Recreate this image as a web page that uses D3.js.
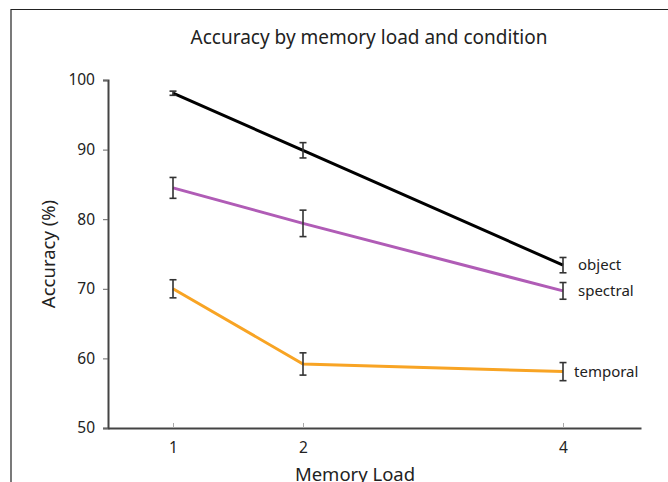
<!DOCTYPE html>
<html>
<head>
<meta charset="utf-8">
<script src="https://cdn.jsdelivr.net/npm/d3@7"></script>
<style>
  html, body { margin: 0; padding: 0; background: #fff; }
  svg { display: block; font-family: "Noto Sans", "Open Sans", sans-serif; }
</style>
</head>
<body>
<svg id="chart" width="668" height="482"></svg>
<script>
// ── Data ────────────────────────────────────────────────────────────────
const loads      = [1, 2, 4];
const conditions = ['object', 'spectral', 'temporal'];
const objectAcc    = [98.1, 89.9, 73.4];
const objectErr    = [0.3, 1.1, 1.1];
const spectralAcc  = [84.5, 79.4, 69.7];
const spectralErr  = [1.5, 1.9, 1.2];
const temporalAcc  = [70.0, 59.2, 58.1];
const temporalErr  = [1.3, 1.6, 1.3];
const yTicks = [50, 60, 70, 80, 90, 100];

const series = [
  { name: 'object',   acc: objectAcc,   err: objectErr,   color: '#000000' },
  { name: 'spectral', acc: spectralAcc, err: spectralErr, color: '#b05cb6' },
  { name: 'temporal', acc: temporalAcc, err: temporalErr, color: '#f8a424' }
];

const svg = d3.select('#chart');

// ── Frame (top + left edges of the figure box) ──────────────────────────
svg.append('path')
  .attr('d', 'M11,482 V9.5 H668')
  .attr('fill', 'none').attr('stroke', '#222').attr('stroke-width', 1.2);

// ── Scales ──────────────────────────────────────────────────────────────
const x = d3.scaleLinear().domain([0.5, 4.6]).range([108, 641]);
const y = d3.scaleLinear().domain([50, 100]).range([428, 80]);

// ── Axes ────────────────────────────────────────────────────────────────
const yAxis = svg.append('g')
  .attr('transform', `translate(${x(0.5)},0)`)
  .call(d3.axisLeft(y).tickValues(yTicks).tickSize(5).tickPadding(8));
yAxis.select('.domain').attr('stroke', '#444').attr('stroke-width', 2);
yAxis.selectAll('.tick line').attr('stroke', '#666').attr('stroke-width', 1);
yAxis.selectAll('.tick text')
  .attr('font-size', 15.5).attr('fill', '#222')
  .attr('font-family', '"Noto Sans", sans-serif');

const xAxis = svg.append('g')
  .attr('transform', `translate(0,${y(50)})`)
  .call(d3.axisBottom(x).tickValues(loads).tickFormat(d3.format('d'))
    .tickSizeInner(-5).tickSizeOuter(0).tickPadding(14));
xAxis.select('.domain').attr('stroke', '#444').attr('stroke-width', 2);
xAxis.selectAll('.tick line').attr('stroke', '#aaa').attr('stroke-width', 1);
xAxis.selectAll('.tick text')
  .attr('font-size', 15.5).attr('fill', '#222')
  .attr('font-family', '"Noto Sans", sans-serif');

// ── Lines ───────────────────────────────────────────────────────────────
const line = d3.line().x(d => x(d[0])).y(d => y(d[1]));

series.forEach(s => {
  const pts = loads.map((l, i) => [l, s.acc[i], s.err[i]]);

  svg.append('path')
    .datum(pts)
    .attr('d', line)
    .attr('fill', 'none')
    .attr('stroke', s.color)
    .attr('stroke-width', 3);

  // error bars
  const eb = svg.append('g').attr('stroke', '#333').attr('stroke-width', 1.6);
  pts.forEach(p => {
    const cx = x(p[0]);
    eb.append('line').attr('x1', cx).attr('x2', cx)
      .attr('y1', y(p[1] + p[2])).attr('y2', y(p[1] - p[2]));
    [p[1] + p[2], p[1] - p[2]].forEach(v => {
      eb.append('line').attr('x1', cx - 3.5).attr('x2', cx + 3.5)
        .attr('y1', y(v)).attr('y2', y(v));
    });
  });
});

// ── Series labels at the right end ──────────────────────────────────────
const labelX = { object: 578, spectral: 578, temporal: 574 };
series.forEach(s => {
  svg.append('text')
    .attr('x', labelX[s.name])
    .attr('y', y(s.acc[2]) + 5)
    .attr('font-size', 15).attr('fill', '#222')
    .text(s.name);
});

// ── Titles ──────────────────────────────────────────────────────────────
svg.append('text')
  .attr('x', 369).attr('y', 44)
  .attr('text-anchor', 'middle')
  .attr('font-size', 19).attr('fill', '#222')
  .text('Accuracy by memory load and condition');

svg.append('text')
  .attr('transform', `translate(55,${y(75)}) rotate(-90)`)
  .attr('text-anchor', 'middle')
  .attr('font-size', 18.5).attr('fill', '#222')
  .text('Accuracy (%)');

svg.append('text')
  .attr('x', 355).attr('y', 481)
  .attr('text-anchor', 'middle')
  .attr('font-size', 18.5).attr('fill', '#222')
  .text('Memory Load');
</script>
</body>
</html>
